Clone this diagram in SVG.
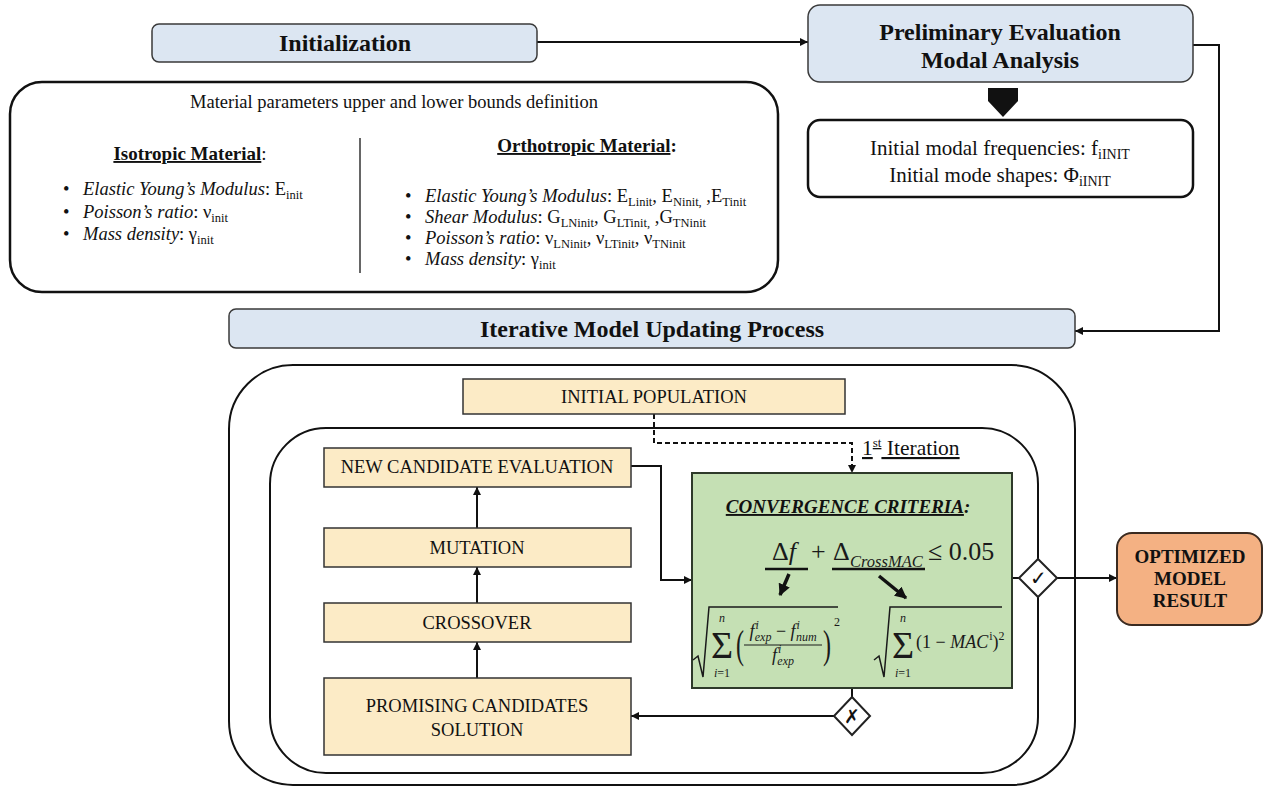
<svg xmlns="http://www.w3.org/2000/svg" width="1269" height="787" viewBox="0 0 1269 787">
  <style>
    text { font-family: "Liberation Serif", "Times New Roman", serif; fill: #111; }
    .hdr { fill: #dce6f2; stroke: #3a3a3a; stroke-width: 1.5; }
    .hdr-t { font-size: 24px; font-weight: bold; text-anchor: middle; }
    .plain { fill: #fff; stroke: #111; stroke-width: 2.5; }
    .step { fill: #fcebc6; stroke: #333; stroke-width: 1.5; }
    .step-t { font-size: 18.5px; text-anchor: middle; }
    .frame { fill: none; stroke: #111; stroke-width: 2; }
    .conn { fill: none; stroke: #111; stroke-width: 2; }
    .dash { stroke-dasharray: 5 3; }
    .bl { font-size: 18.5px; }
    .it { font-style: italic; }
    .sb { font-size: 12.5px; }
    .dec { fill: #fff; stroke: #222; stroke-width: 2; }
    .math { fill: #1a1a1a; }
  </style>
  <defs>
    <marker id="ah" viewBox="0 0 10 10" refX="10" refY="5" markerWidth="8" markerHeight="8" markerUnits="userSpaceOnUse" orient="auto">
      <path d="M0,0 L10,5 L0,10 z" fill="#111"/>
    </marker>
    <marker id="ahb" viewBox="0 0 10 10" refX="9" refY="5" markerWidth="12" markerHeight="12" markerUnits="userSpaceOnUse" orient="auto">
      <path d="M0,0 L10,5 L0,10 z" fill="#111"/>
    </marker>
  </defs>

  <!-- connectors -->
  <g id="connectors">
    <path class="conn" d="M537,42 L808,42" marker-end="url(#ah)"/>
    <path class="conn" d="M1193,45 L1219,45 L1219,331 L1075,331" marker-end="url(#ah)"/>
    <polygon points="988,88 1018,88 1018,101 1003,117 988,101" fill="#111"/>
    <path class="conn dash" d="M654,414 L654,443 L852,443 L852,473" marker-end="url(#ah)"/>
    <path class="conn" d="M631,466 L661,466 L661,580 L692,580" marker-end="url(#ah)"/>
    <path class="conn" d="M477,528 L477,487" marker-end="url(#ah)"/>
    <path class="conn" d="M477,603 L477,567" marker-end="url(#ah)"/>
    <path class="conn" d="M477,678 L477,642" marker-end="url(#ah)"/>
    <path class="conn" d="M1012,578 L1019,578"/>
    <path class="conn" d="M1057,578 L1117,578" marker-end="url(#ah)"/>
    <path class="conn" d="M852,688 L852,697"/>
    <path class="conn" d="M834,716 L631,716" marker-end="url(#ah)"/>
  </g>

  <!-- initialization header -->
  <g id="initialization">
    <rect class="hdr" x="152" y="24" width="385" height="38" rx="7"/>
    <text class="hdr-t" x="345" y="51">Initialization</text>
  </g>

  <!-- material bounds panel -->
  <g id="material-bounds">
    <rect class="plain" x="10" y="82" width="768" height="210" rx="32"/>
    <text x="394" y="108" font-size="18.5" text-anchor="middle">Material parameters upper and lower bounds definition</text>
    <line x1="360" y1="138" x2="360" y2="273" stroke="#333" stroke-width="1.5"/>
    <text x="190" y="160" font-size="19" text-anchor="middle"><tspan font-weight="bold" text-decoration="underline">Isotropic Material</tspan>:</text>
    <g>
      <text class="bl" x="63" y="195">•</text>
      <text class="bl" x="83" y="195"><tspan class="it">Elastic Young’s Modulus</tspan>: E<tspan class="sb" dy="4">init</tspan></text>
      <text class="bl" x="63" y="218">•</text>
      <text class="bl" x="83" y="218"><tspan class="it">Poisson’s ratio</tspan>: ν<tspan class="sb" dy="4">init</tspan></text>
      <text class="bl" x="63" y="240">•</text>
      <text class="bl" x="83" y="240"><tspan class="it">Mass density</tspan>: γ<tspan class="sb" dy="4">init</tspan></text>
    </g>
    <text x="587" y="152" font-size="19" text-anchor="middle" font-weight="bold"><tspan text-decoration="underline">Orthotropic Material</tspan>:</text>
    <g>
      <text class="bl" x="405" y="202">•</text>
      <text class="bl" x="425" y="202"><tspan class="it">Elastic Young’s Modulus</tspan>: E<tspan class="sb" dy="4">Linit</tspan><tspan dy="-4">, E</tspan><tspan class="sb" dy="4">Ninit,</tspan><tspan dy="-4"> ,E</tspan><tspan class="sb" dy="4">Tinit</tspan></text>
      <text class="bl" x="405" y="223">•</text>
      <text class="bl" x="425" y="223"><tspan class="it">Shear Modulus</tspan>: G<tspan class="sb" dy="4">LNinit</tspan><tspan dy="-4">, G</tspan><tspan class="sb" dy="4">LTinit,</tspan><tspan dy="-4"> ,G</tspan><tspan class="sb" dy="4">TNinit</tspan></text>
      <text class="bl" x="405" y="244">•</text>
      <text class="bl" x="425" y="244"><tspan class="it">Poisson’s ratio</tspan>: ν<tspan class="sb" dy="4">LNinit</tspan><tspan dy="-4">, ν</tspan><tspan class="sb" dy="4">LTinit</tspan><tspan dy="-4">, ν</tspan><tspan class="sb" dy="4">TNinit</tspan></text>
      <text class="bl" x="405" y="265">•</text>
      <text class="bl" x="425" y="265"><tspan class="it">Mass density</tspan>: γ<tspan class="sb" dy="4">init</tspan></text>
    </g>
  </g>

  <!-- preliminary evaluation header -->
  <g id="preliminary">
    <rect class="hdr" x="808" y="5" width="385" height="77" rx="12"/>
    <text class="hdr-t" x="1000" y="40">Preliminary Evaluation</text>
    <text class="hdr-t" x="1000" y="68">Modal Analysis</text>
  </g>

  <!-- initial modal results -->
  <g id="initial-modal">
    <rect class="plain" x="808" y="120" width="385" height="77" rx="12"/>
    <text x="1000" y="155" font-size="21" text-anchor="middle">Initial modal frequencies: f<tspan font-size="14" dy="4">iINIT</tspan></text>
    <text x="1000" y="182" font-size="21" text-anchor="middle">Initial mode shapes: Φ<tspan font-size="14" dy="4">iINIT</tspan></text>
  </g>

  <!-- iterative process header -->
  <g id="iterative-header">
    <rect class="hdr" x="229" y="309" width="846" height="39" rx="7"/>
    <text class="hdr-t" x="652" y="337">Iterative Model Updating Process</text>
  </g>

  <!-- nested loop frames -->
  <g id="outer-loop">
    <rect class="frame" x="229" y="365" width="846" height="420" rx="64"/>
  </g>
  <g id="inner-loop">
    <rect class="frame" x="270" y="428" width="768" height="345" rx="56"/>
  </g>

  <g id="initial-population">
    <rect class="step" x="463" y="379" width="382" height="35"/>
    <text class="step-t" x="654" y="403">INITIAL POPULATION</text>
  </g>

  <g id="iteration-label">
    <text x="862" y="455" font-family="Liberation Sans, Arial, sans-serif" font-size="21.5" text-decoration="underline">1<tspan font-size="13" dy="-8">st</tspan><tspan dy="8"> Iteration</tspan></text>
  </g>

  <g id="new-candidate">
    <rect class="step" x="324" y="448" width="307" height="39"/>
    <text class="step-t" x="477" y="473">NEW CANDIDATE EVALUATION</text>
  </g>
  <g id="mutation">
    <rect class="step" x="324" y="528" width="307" height="39"/>
    <text class="step-t" x="477" y="554">MUTATION</text>
  </g>
  <g id="crossover">
    <rect class="step" x="324" y="603" width="307" height="39"/>
    <text class="step-t" x="477" y="629">CROSSOVER</text>
  </g>
  <g id="promising">
    <rect class="step" x="324" y="678" width="307" height="77"/>
    <text class="step-t" x="477" y="712">PROMISING CANDIDATES</text>
    <text class="step-t" x="477" y="736">SOLUTION</text>
  </g>

  <!-- convergence check -->
  <g id="convergence">
    <rect x="692" y="473" width="320" height="215" fill="#c5e0b4" stroke="#2e3a2a" stroke-width="2"/>
    <text x="848" y="513" font-size="19" font-weight="bold" font-style="italic" text-anchor="middle"><tspan text-decoration="underline">CONVERGENCE CRITERIA</tspan>:</text>
    <!-- headline inequality -->
    <text class="math" x="772" y="560" font-size="26">Δ<tspan class="it">f</tspan></text>
    <text class="math" x="811" y="560" font-size="26">+</text>
    <text class="math" x="833" y="560" font-size="26">Δ</text>
    <text class="math it" x="850" y="567" font-size="16.5">CrossMAC</text>
    <text class="math" x="928" y="560" font-size="26">≤ 0.05</text>
    <line x1="765" y1="569" x2="808" y2="569" stroke="#111" stroke-width="2.5"/>
    <line x1="832" y1="569" x2="925" y2="569" stroke="#111" stroke-width="2.5"/>
    <path d="M789,574 L780,595" stroke="#111" stroke-width="3.5" marker-end="url(#ahb)"/>
    <path d="M879,576 L906,598" stroke="#111" stroke-width="3.5" marker-end="url(#ahb)"/>
    <!-- frequency term -->
    <path d="M693,660 L698,656 L703,677 L709,607 L838,607" fill="none" stroke="#1a1a1a" stroke-width="1.5"/>
    <text class="math" text-anchor="middle"><tspan x="722" y="622" font-size="12" font-style="italic">n</tspan><tspan x="722" y="658" font-size="38">Σ</tspan><tspan x="722" y="677" font-size="12"><tspan font-style="italic">i</tspan>=1</tspan></text>
    <text class="math" transform="translate(736,658) scale(1,1.7)" font-size="24">(</text>
    <text class="math it" x="783" y="637" font-size="18" text-anchor="middle">f<tspan font-size="12" dx="1" dy="-8">i</tspan><tspan font-size="12" dx="-4" dy="12">exp</tspan><tspan font-style="normal" font-size="18" dy="-4"> − </tspan>f<tspan font-size="12" dx="1" dy="-8">i</tspan><tspan font-size="12" dx="-4" dy="12">num</tspan></text>
    <line x1="744" y1="645" x2="822" y2="645" stroke="#1a1a1a" stroke-width="1.2"/>
    <text class="math it" x="783" y="661" font-size="18" text-anchor="middle">f<tspan font-size="12" dx="1" dy="-8">i</tspan><tspan font-size="12" dx="-4" dy="12">exp</tspan></text>
    <text class="math" transform="translate(823,658) scale(1,1.7)" font-size="24">)</text>
    <text class="math" x="834" y="626" font-size="12">2</text>
    <!-- MAC term -->
    <path d="M874,660 L879,656 L884,677 L890,607 L1002,607" fill="none" stroke="#1a1a1a" stroke-width="1.5"/>
    <text class="math" text-anchor="middle"><tspan x="903" y="622" font-size="12" font-style="italic">n</tspan><tspan x="903" y="658" font-size="38">Σ</tspan><tspan x="903" y="677" font-size="12"><tspan font-style="italic">i</tspan>=1</tspan></text>
    <text class="math" x="916" y="648" font-size="18">(1 − <tspan class="it">MAC</tspan><tspan font-size="12" dx="1" dy="-8">i</tspan><tspan dy="8">)</tspan><tspan font-size="12" dy="-8">2</tspan></text>
  </g>

  <g id="accept-gate">
    <polygon class="dec" points="1038,559 1057,578 1038,597 1019,578"/>
    <text x="1038" y="585" font-size="20" text-anchor="middle" font-family="DejaVu Sans, sans-serif">✓</text>
  </g>
  <g id="reject-gate">
    <polygon class="dec" points="852,697 870,716 852,735 834,716"/>
    <text x="852" y="723" font-size="19" text-anchor="middle" font-family="DejaVu Sans, sans-serif">✗</text>
  </g>

  <g id="optimized-result">
    <rect x="1117" y="533" width="145" height="92" rx="15" fill="#f4b183" stroke="#3a2a20" stroke-width="2"/>
    <text x="1190" y="563" font-size="19" font-weight="bold" text-anchor="middle">OPTIMIZED</text>
    <text x="1190" y="585" font-size="19" font-weight="bold" text-anchor="middle">MODEL</text>
    <text x="1190" y="607" font-size="19" font-weight="bold" text-anchor="middle">RESULT</text>
  </g>
</svg>
